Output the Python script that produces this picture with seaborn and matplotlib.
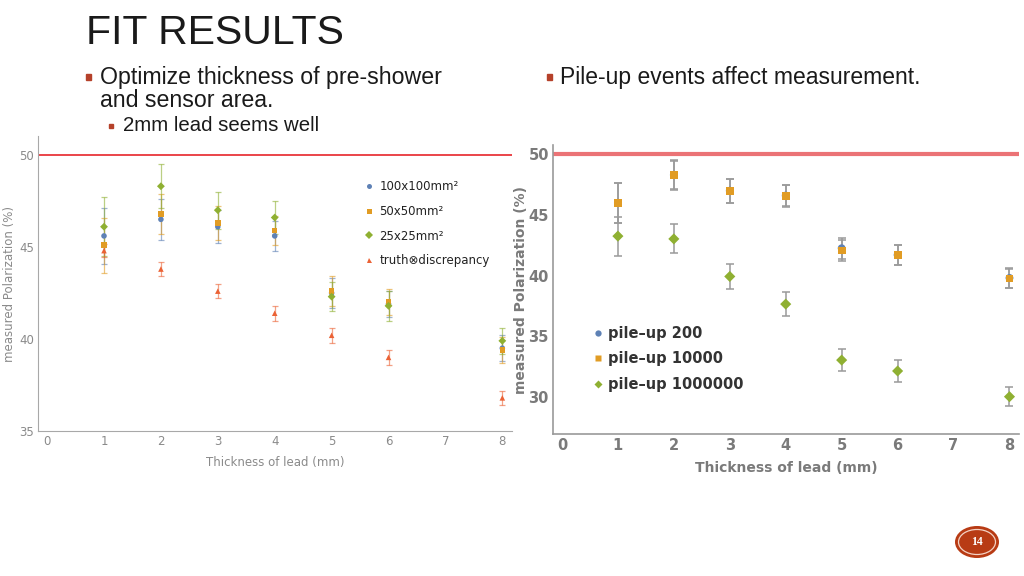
import numpy as np
import pandas as pd
import matplotlib
matplotlib.use("Agg")
import matplotlib.pyplot as plt
from matplotlib.patches import Ellipse, Rectangle
import seaborn as sns

# ---------------- data ----------------
thickness = [1, 2, 3, 4, 5, 6, 8]

left_labels = ["100x100mm²", "50x50mm²", "25x25mm²", "truth⊗discrepancy"]
pol_100 = [45.6, 46.5, 46.1, 45.6, 42.5, 41.9, 39.5]
err_100 = [1.5, 1.1, 0.9, 0.8, 0.8, 0.7, 0.7]
pol_50 = [45.1, 46.8, 46.3, 45.9, 42.6, 42.0, 39.4]
err_50 = [1.5, 1.1, 0.9, 0.8, 0.8, 0.7, 0.7]
pol_25 = [46.1, 48.3, 47.0, 46.6, 42.3, 41.8, 39.9]
err_25 = [1.6, 1.2, 1.0, 0.9, 0.8, 0.8, 0.7]
pol_truth = [44.8, 43.8, 42.6, 41.4, 40.2, 39.0, 36.8]
err_truth = [0.35, 0.4, 0.4, 0.4, 0.4, 0.4, 0.4]

right_labels = ["pile–up 200", "pile–up 10000", "pile–up 1000000"]
pu_200 = [46.0, 48.3, 47.0, 46.6, 42.25, 41.7, 39.8]
pu_200_err = [1.65, 1.2, 1.0, 0.9, 0.85, 0.8, 0.8]
pu_1e4 = [46.0, 48.27, 46.98, 46.57, 42.06, 41.68, 39.75]
pu_1e4_err = [1.65, 1.2, 1.0, 0.9, 0.85, 0.8, 0.8]
pu_1e6 = [43.25, 43.02, 39.92, 37.64, 33.02, 32.12, 30.0]
pu_1e6_err = [1.6, 1.2, 1.0, 1.0, 0.9, 0.9, 0.8]

true_pol = 50

x_ticks = [0, 1, 2, 3, 4, 5, 6, 7, 8]
left_yticks = [35, 40, 45, 50]
right_yticks = [30, 35, 40, 45, 50]

title = "FIT RESULTS"
bullet1a = "Optimize thickness of pre-shower"
bullet1b = "and sensor area."
bullet1c = "2mm lead seems well"
bullet2 = "Pile-up events affect measurement."
page_no = "14"
xlabel = "Thickness of lead (mm)"
ylabel = "measured Polarization (%)"

# ---------------- style ----------------
sns.set_style("white")
plt.rcParams['font.family'] = ['DejaVu Sans']

W, H = 1024, 576
fig = plt.figure(figsize=(W / 100, H / 100), dpi=100)
fig.patch.set_facecolor("white")

def fx(x):
    return x / W

def fy(y):
    return 1 - y / H

colors = ["#5E81B5", "#E19C24", "#8FB032", "#EB6235"]
markers_l = ["o", "s", "D", "^"]

# ---------------- left chart ----------------
axL = fig.add_axes([fx(38), fy(431), fx(512) - fx(38), fy(136) - fy(431)])
left_vals = [pol_100, pol_50, pol_25, pol_truth]
left_errs = [err_100, err_50, err_25, err_truth]
recs = []
for lab, v in zip(left_labels, left_vals):
    for t, p in zip(thickness, v):
        recs.append({"thickness": t, "pol": p, "series": lab})
dfL = pd.DataFrame(recs)

for lab, v, e, c in zip(left_labels, left_vals, left_errs, colors):
    axL.errorbar(thickness, v, yerr=e, fmt="none", ecolor=c, elinewidth=0.9,
                 capsize=2.5, capthick=0.9, alpha=0.6, zorder=2)
axL.axhline(true_pol, color="#E8363A", lw=1.3, zorder=1)
sns.scatterplot(data=dfL, x="thickness", y="pol", hue="series", style="series",
                palette=dict(zip(left_labels, colors)),
                markers=dict(zip(left_labels, markers_l)),
                s=16, edgecolor="none", ax=axL, zorder=3, legend=True)
axL.set_xlim(-0.16, 8.17)
axL.set_ylim(35, 51.03)
axL.set_xticks(x_ticks)
axL.set_yticks(left_yticks)
axL.set_yticks(np.arange(35, 51, 1), minor=True)
gL = "#8A8A8A"
for s in ["top", "right"]:
    axL.spines[s].set_visible(False)
for s in ["left", "bottom"]:
    axL.spines[s].set_color("#A8A8A8")
    axL.spines[s].set_linewidth(0.8)
axL.tick_params(axis="both", which="major", direction="in", length=4, width=0.7,
                colors="#A8A8A8", labelcolor=gL, labelsize=8.5, pad=3)
axL.tick_params(axis="both", which="minor", direction="in", length=2, width=0.6,
                colors="#B8B8B8")
axL.set_xlabel(xlabel, color=gL, fontsize=8.5, labelpad=6)
axL.set_ylabel(ylabel, color=gL, fontsize=8.5)
axL.yaxis.set_label_coords(-0.047, 0.5)
axL.set_facecolor("none")
hL, lL = axL.get_legend_handles_labels()
legL = axL.legend(hL, lL, frameon=False, loc="upper left",
                  bbox_to_anchor=(fx(363), fy(180)), bbox_transform=fig.transFigure,
                  fontsize=8.5, handlelength=1.0, handletextpad=0.4,
                  labelspacing=1.0, borderpad=0, borderaxespad=0, markerscale=0.9)
for t in legL.get_texts():
    t.set_color("#222222")

# ---------------- right chart ----------------
axR = fig.add_axes([fx(553), fy(434), fx(1019) - fx(553), fy(145) - fy(434)])
right_vals = [pu_200, pu_1e4, pu_1e6]
right_errs = [pu_200_err, pu_1e4_err, pu_1e6_err]
recs = []
for lab, v in zip(right_labels, right_vals):
    for t, p in zip(thickness, v):
        recs.append({"thickness": t, "pol": p, "series": lab})
dfR = pd.DataFrame(recs)
for v, e in zip(right_vals, right_errs):
    axR.errorbar(thickness, v, yerr=e, fmt="none", ecolor="#9A9A9A", elinewidth=1.1,
                 capsize=3, capthick=1.1, zorder=2)
axR.axhline(true_pol, color="#E85A5E", lw=3, alpha=0.85, zorder=1)
sns.scatterplot(data=dfR, x="thickness", y="pol", hue="series", style="series",
                palette=dict(zip(right_labels, colors[:3])),
                markers=dict(zip(right_labels, markers_l[:3])),
                s=32, edgecolor="none", ax=axR, zorder=3, legend=True)
axR.set_xlim(-0.16, 8.17)
axR.set_ylim(26.92, 50.77)
axR.set_xticks(x_ticks)
axR.set_yticks(right_yticks)
axR.set_yticks(np.arange(27, 51, 1), minor=True)
gR = "#7A7A7A"
for s in ["top", "right"]:
    axR.spines[s].set_visible(False)
for s in ["left", "bottom"]:
    axR.spines[s].set_color("#9A9A9A")
    axR.spines[s].set_linewidth(1.2)
axR.tick_params(axis="both", which="major", direction="in", length=5, width=1.0,
                colors="#9A9A9A", labelcolor=gR, labelsize=10.5, pad=3)
axR.tick_params(axis="both", which="minor", direction="in", length=2.5, width=0.8,
                colors="#A8A8A8")
for lab in axR.get_xticklabels() + axR.get_yticklabels():
    lab.set_fontweight("bold")
axR.set_xlabel(xlabel, color=gR, fontsize=10, fontweight="bold", labelpad=6)
axR.set_ylabel(ylabel, color=gR, fontsize=10, fontweight="bold")
axR.yaxis.set_label_coords(-0.054, 0.5)
axR.set_facecolor("none")
hR, lR = axR.get_legend_handles_labels()
legR = axR.legend(hR, lR, frameon=False, loc="upper left",
                  bbox_to_anchor=(fx(593), fy(326)), bbox_transform=fig.transFigure,
                  prop={"weight": "bold", "size": 10.5}, handlelength=0.7,
                  handletextpad=0.35, labelspacing=0.72, borderpad=0, borderaxespad=0,
                  markerscale=0.8)
for t in legR.get_texts():
    t.set_color("#333333")

# ---------------- slide text ----------------
fig.text(fx(86), fy(44), title, fontsize=29.5, color="#1A1A1A",
         family=["Liberation Sans Narrow", "Liberation Sans", "DejaVu Sans"],
         va="baseline", ha="left")
txt_fam = ["Liberation Sans", "DejaVu Sans"]
bullet_col = "#B5412A"
fig.text(fx(100), fy(84), bullet1a, fontsize=16.7, color="#1A1A1A", family=txt_fam, va="baseline")
fig.text(fx(100), fy(107), bullet1b, fontsize=16.7, color="#1A1A1A", family=txt_fam, va="baseline")
fig.text(fx(123), fy(131), bullet1c, fontsize=14.7, color="#1A1A1A", family=txt_fam, va="baseline")
fig.text(fx(560), fy(84), bullet2, fontsize=16.5, color="#1A1A1A", family=txt_fam, va="baseline")
for (bx, by, bs) in [(88, 77, 5), (111, 126, 4.5), (549, 77, 5)]:
    fig.patches.append(Rectangle((fx(bx - bs / 2), fy(by + bs / 2)), bs / W, bs / H,
                                 transform=fig.transFigure, color=bullet_col))

# page number badge
fig.patches.append(Ellipse((fx(977), fy(542)), 44 / W, 32 / H, transform=fig.transFigure,
                           facecolor="#B83B14", edgecolor="none"))
fig.patches.append(Ellipse((fx(977), fy(542)), 37 / W, 25 / H, transform=fig.transFigure,
                           facecolor="none", edgecolor="#F3D2C4", lw=0.9))
fig.text(fx(977), fy(542), page_no, fontsize=8.5, color="white", fontweight="bold",
         family=["Liberation Serif", "DejaVu Serif"], ha="center", va="center")

fig.savefig("out.png", dpi=100, facecolor="white")
